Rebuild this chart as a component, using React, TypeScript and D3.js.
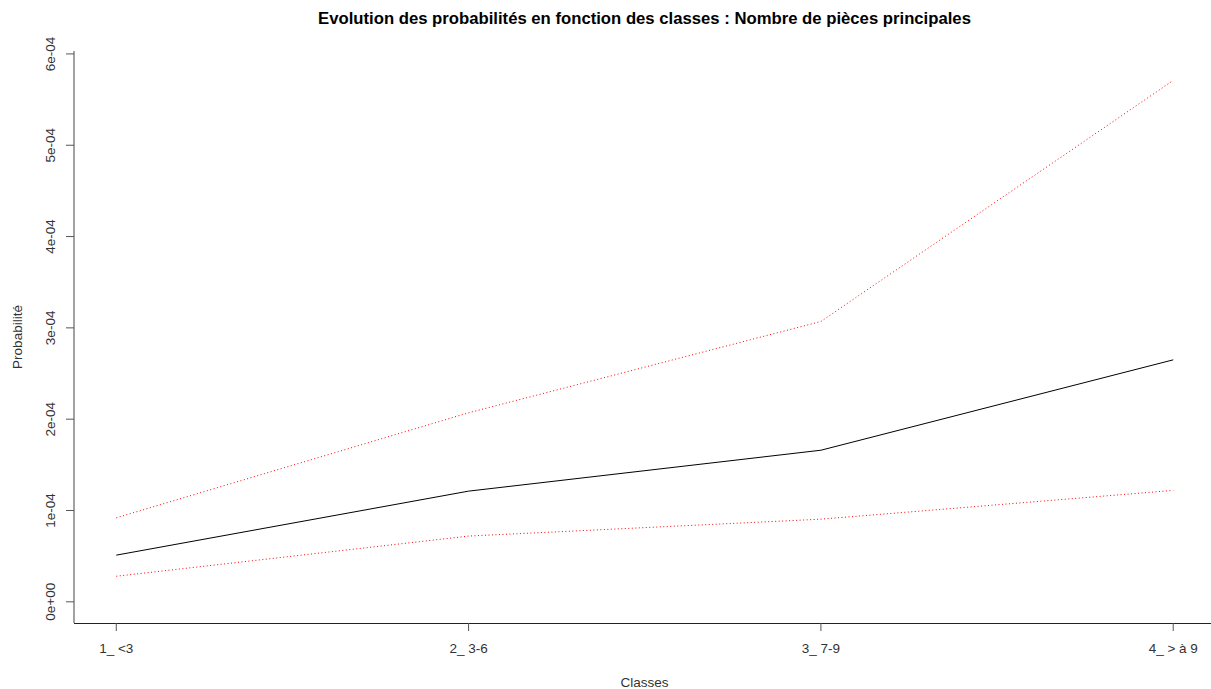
import React from 'react';
import * as d3 from 'd3';

const classes = ['1_ <3', '2_ 3-6', '3_ 7-9', '4_ > à 9'];
const probabilite = [0.511e-4, 1.212e-4, 1.66e-4, 2.65e-4];
const borneHaute = [0.92e-4, 2.07e-4, 3.07e-4, 5.71e-4];
const borneBasse = [0.28e-4, 0.72e-4, 0.905e-4, 1.22e-4];
const yTicks = [0, 1e-4, 2e-4, 3e-4, 4e-4, 5e-4, 6e-4];

const W = 1211;
const H = 689;
const font = '"Liberation Sans", Arial, sans-serif';

const fmt = (v: number) => {
  if (v === 0) return '0e+00';
  const [m, e] = v.toExponential(0).split('e');
  const n = Math.abs(+e);
  return `${m}e${+e < 0 ? '-' : '+'}${n < 10 ? '0' + n : n}`;
};

const App: React.FC = () => {
  const x = d3.scaleLinear().domain([0.88, 4.12]).range([74, 1215.5]);
  const y = d3.scaleLinear().domain([-0.232e-4, 6.032e-4]).range([623, 51]);

  const line = d3.line<number>()
    .x((_, i) => x(i + 1))
    .y(d => y(d));

  const top = y.range()[1];
  const bottom = y.range()[0];

  return (
    <svg width={W} height={H} style={{ position: 'absolute', left: 0, top: 0, background: '#fff' }}>
      <text x={644.5} y={24} textAnchor="middle" fontFamily={font} fontWeight="bold" fontSize={16.7} fill="#000">
        Evolution des probabilités en fonction des classes : Nombre de pièces principales
      </text>

      {/* axes (L box) */}
      <line x1={74} y1={top} x2={74} y2={bottom} stroke="#444" />
      <line x1={74} y1={bottom + 0.5} x2={W} y2={bottom + 0.5} stroke="#222" />

      {yTicks.map(t => (
        <g key={t}>
          <line x1={66} y1={y(t)} x2={74} y2={y(t)} stroke="#555" />
          <text
            transform={`translate(55,${y(t)}) rotate(-90)`}
            textAnchor="middle"
            fontFamily={font}
            fontSize={13.5}
            fill="#333"
          >
            {fmt(t)}
          </text>
        </g>
      ))}

      {classes.map((c, i) => (
        <g key={c}>
          <line x1={x(i + 1)} y1={bottom} x2={x(i + 1)} y2={631} stroke="#555" />
          <text x={x(i + 1)} y={653} textAnchor="middle" fontFamily={font} fontSize={13.5} fill="#333">
            {c}
          </text>
        </g>
      ))}

      <text x={644.5} y={687} textAnchor="middle" fontFamily={font} fontSize={13.5} fill="#333">
        Classes
      </text>
      <text
        transform={`translate(22,${(top + bottom) / 2}) rotate(-90)`}
        textAnchor="middle"
        fontFamily={font}
        fontSize={13.5}
        fill="#333"
      >
        Probabilité
      </text>

      <path d={line(probabilite) || ''} fill="none" stroke="#000" strokeWidth={1} />
      <path d={line(borneHaute) || ''} fill="none" stroke="red" strokeWidth={1} strokeDasharray="1 2.5" />
      <path d={line(borneBasse) || ''} fill="none" stroke="red" strokeWidth={1} strokeDasharray="1 2.5" />
    </svg>
  );
};

export default App;
